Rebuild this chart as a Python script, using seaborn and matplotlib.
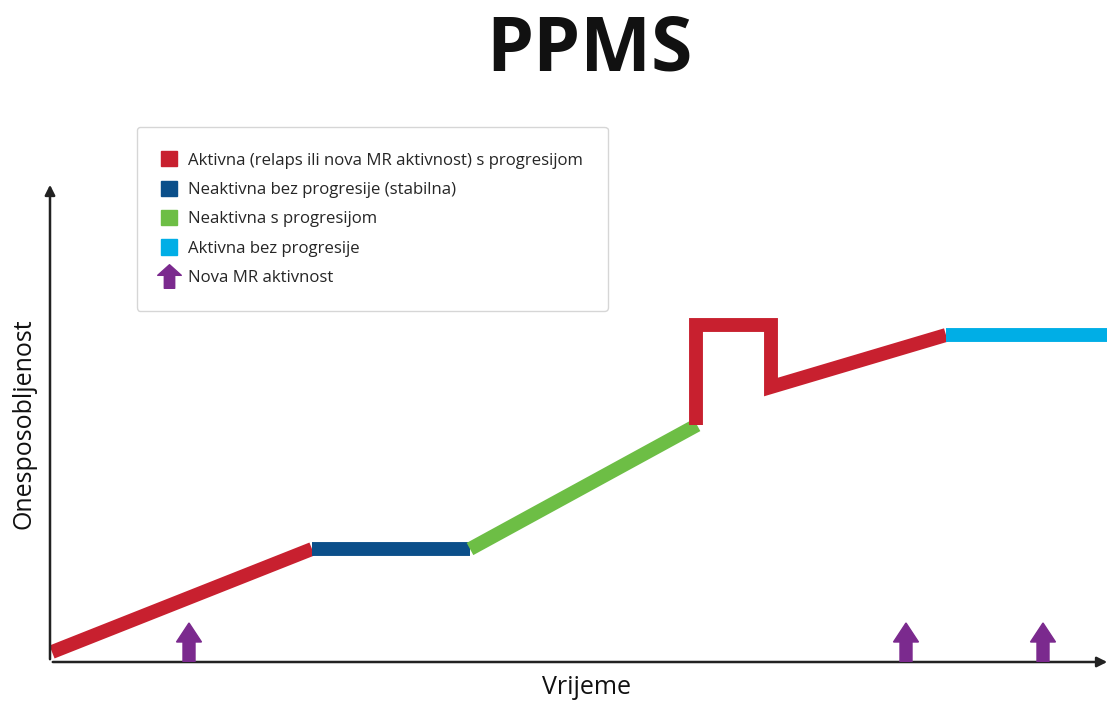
import matplotlib
matplotlib.use("Agg")
import matplotlib.pyplot as plt
import seaborn as sns
import pandas as pd
from matplotlib.patches import Patch
from matplotlib.lines import Line2D
from matplotlib.path import Path

sns.set_theme(style="white")
plt.rcParams['font.family'] = ['Open Sans', 'DejaVu Sans']

# course of disability over time (arbitrary units), one list per phase
seg_red1_t = [0.2, 26.2]
seg_red1_d = [1.0, 11.3]
seg_blue_t = [26.2, 42.0]
seg_blue_d = [11.3, 11.3]
seg_green_t = [42.0, 64.7]
seg_green_d = [11.3, 23.7]
seg_red2_t = [64.6, 64.6, 72.1, 72.1, 89.6]
seg_red2_d = [23.7, 33.7, 33.7, 27.5, 32.7]
seg_cyan_t = [89.6, 105.7]
seg_cyan_d = [32.7, 32.7]

# new MR activity events
mr_events = [13.9, 85.6, 99.3]

labels = ["Aktivna (relaps ili nova MR aktivnost) s progresijom",
          "Neaktivna bez progresije (stabilna)",
          "Neaktivna s progresijom",
          "Aktivna bez progresije",
          "Nova MR aktivnost"]

RED = "#C8202F"
BLUE = "#0B4F8A"
GREEN = "#6DBE45"
CYAN = "#00AEE6"
PURPLE = "#7B2A8E"

segments = [(seg_red1_t, seg_red1_d, RED), (seg_blue_t, seg_blue_d, BLUE),
            (seg_green_t, seg_green_d, GREEN), (seg_red2_t, seg_red2_d, RED),
            (seg_cyan_t, seg_cyan_d, CYAN)]

fig = plt.figure(figsize=(11.07, 7.06), dpi=100)
ax = fig.add_axes([50/1107, 44/706, 1057/1107, 477/706])
ax.set_xlim(0, 105.7)
ax.set_ylim(0, 47.7)

for t, d, c in segments:
    df = pd.DataFrame({"t": t, "d": d})
    sns.lineplot(data=df, x="t", y="d", sort=False, estimator=None, color=c,
                 linewidth=10, ax=ax, clip_on=False)
for l in ax.get_lines():
    l.set_solid_joinstyle("miter")
    l.set_solid_capstyle("butt")

for x in mr_events:
    ax.arrow(x, 0, 0, 3.9, width=1.2, head_width=2.5, head_length=1.9,
             length_includes_head=True, color=PURPLE, zorder=4)

# axes with arrow heads
for s in ax.spines.values():
    s.set_visible(False)
ax.annotate("", xy=(0, 48.0), xytext=(0, 0), annotation_clip=False,
            arrowprops=dict(arrowstyle="-|>", color="#222222", lw=1.8, mutation_scale=15))
ax.annotate("", xy=(106.0, 0), xytext=(0, 0), annotation_clip=False,
            arrowprops=dict(arrowstyle="-|>", color="#222222", lw=1.8, mutation_scale=15))
ax.set_xticks([])
ax.set_yticks([])
ax.set_xlabel("Vrijeme", fontsize=18, color="#111111")
ax.xaxis.set_label_coords(0.508, -0.028)
ax.set_ylabel("Onesposobljenost", fontsize=18, color="#111111", labelpad=10)

arrow_marker = Path([(-0.22, -0.5), (0.22, -0.5), (0.22, 0.05), (0.5, 0.05), (0, 0.5),
                     (-0.5, 0.05), (-0.22, 0.05), (-0.22, -0.5)], closed=True)
handles = [Patch(color=RED), Patch(color=BLUE), Patch(color=GREEN), Patch(color=CYAN),
           Line2D([], [], marker=arrow_marker, color=PURPLE, markersize=17, linestyle="none")]
leg = fig.legend(handles, labels, loc="upper left", bbox_to_anchor=(137/1107, 1 - 127/706),
                 fontsize=12.1, frameon=True, fancybox=True, edgecolor="#cccccc",
                 handlelength=0.95, handleheight=1.0, handletextpad=0.65, labelspacing=0.72,
                 borderpad=1.45, borderaxespad=0)
leg.get_frame().set_linewidth(1.0)

fig.text(589/1107, 1 - 51/706, "PPMS", ha="center", va="center", fontsize=54,
         fontweight="bold", color="#111111")

fig.savefig("out.png", dpi=100)
